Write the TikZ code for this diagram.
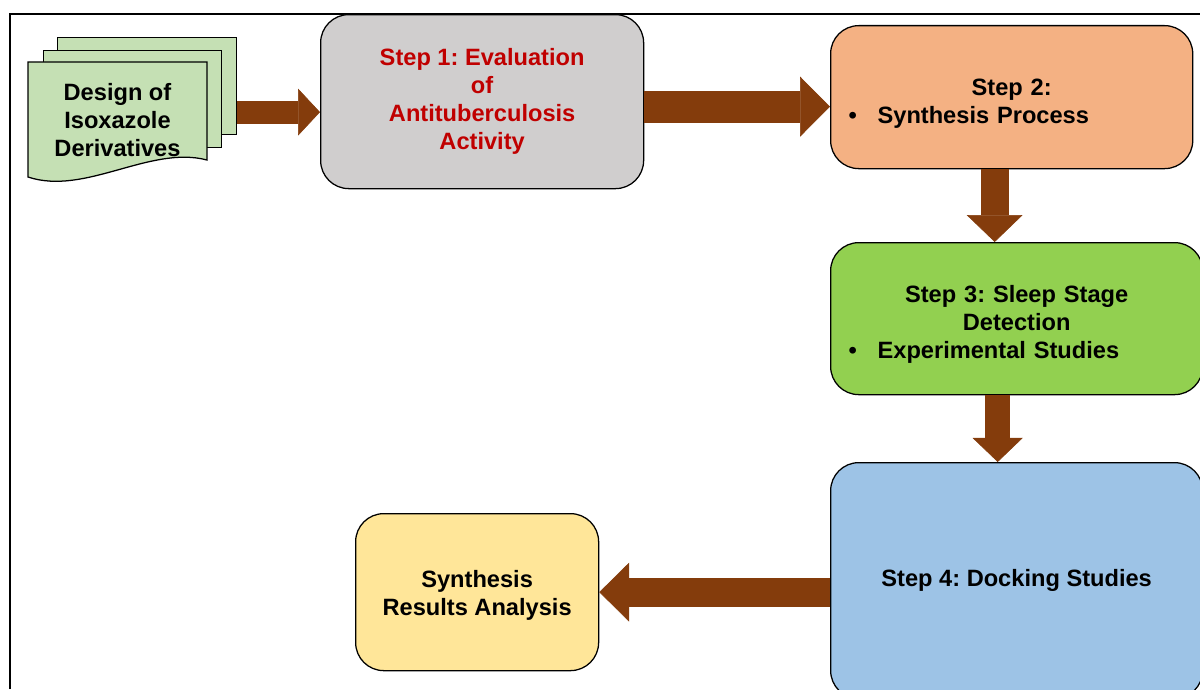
\documentclass[tikz,border=0pt]{standalone}
\usepackage{fontspec}
\setmainfont{Liberation Sans}
\usetikzlibrary{calc}
\usetikzlibrary{arrows.meta}
\usetikzlibrary{positioning}

\definecolor{boxgray}{HTML}{D0CECE}
\definecolor{boxorange}{HTML}{F4B183}
\definecolor{boxgreen}{HTML}{92D050}
\definecolor{boxblue}{HTML}{9DC3E6}
\definecolor{boxyellow}{HTML}{FFE699}
\definecolor{docgreen}{HTML}{C5E0B4}
\definecolor{arrowbrown}{HTML}{843C0C}
\definecolor{stepred}{HTML}{C00000}

\frenchspacing
\newcommand{\pxu}{0.025cm}
\newcommand{\bulletitem}[1]{\makebox[20.6pt][l]{\textbullet}#1}

\begin{document}
\begin{tikzpicture}[x=0.025cm, y=-0.025cm,
    every node/.style={font=\bfseries\fontsize{16.8}{19.9}\selectfont, align=center},
    stepbox/.style={draw, line width=0.9pt, rounded corners=20pt, inner sep=0pt, anchor=north west},
    sheet/.style={draw, line width=0.9pt, fill=docgreen},
    fatarrow/.style n args={3}{draw=arrowbrown, line width=#1,
      -{Triangle[length=#2, width=#3, line width=0.4pt 0 0]}}
  ]
  \useasboundingbox (0,0) rectangle (1200,689);
  \draw[line width=0.8pt] (10,689) -- (10,14) -- (1200,14);

  % stacked document
  \node[sheet, minimum width=179*\pxu, minimum height=97*\pxu, anchor=north west] (back) at (57,37) {};
  \node[sheet, minimum width=178*\pxu, minimum height=97*\pxu, anchor=north west] (mid) at (43,50) {};
  \draw[sheet] (28,62) -- (207,62) -- (207,160) .. controls (150,145) and (85,196) .. (28,177) -- cycle;
  \node (doc) at (117.5,120) {Design of\\Isoxazole\\Derivatives};

  % steps
  \node[stepbox, fill=boxgray, text=stepred, minimum width=323*\pxu, minimum height=174*\pxu] (s1) at (320,14)
    {Step 1: Evaluation\\of\\Antituberculosis\\Activity};
  \node[stepbox, fill=boxorange, minimum height=143*\pxu, text width=231.9pt, inner xsep=12.8pt, align=left] (s2) at (830,25)
    {\makebox[\linewidth]{\rule{0pt}{21pt}Step 2:}\\\bulletitem{Synthesis Process}};
  \node[stepbox, fill=boxgreen, minimum height=152*\pxu, text width=239pt, inner xsep=12.8pt, align=left] (s3) at (830,242)
    {\makebox[\linewidth]{\rule{0pt}{21pt}Step 3: Sleep Stage}\\\makebox[\linewidth]{Detection}\\\bulletitem{Experimental Studies}};
  \node[stepbox, fill=boxblue, minimum width=372*\pxu, minimum height=236*\pxu] (s4) at (830,462)
    {Step 4: Docking Studies};
  \node[stepbox, fill=boxyellow, minimum width=243*\pxu, minimum height=157*\pxu] (syn) at (355,513)
    {\rule{0pt}{17pt}Synthesis\\Results Analysis};

  % block arrows
  \coordinate (a1) at ($(s1.west)+(0,10.5)$);
  \coordinate (a2) at ($(s1.east)+(0,5)$);
  \coordinate (a3) at ($(s2.south)+(-17,0)$);
  \coordinate (a4) at ($(s3.south)+(-19,0)$);
  \draw[fatarrow={16.4pt}{15.6pt}{33.4pt}] (back.east |- a1) -- (a1);
  \draw[fatarrow={22.8pt}{21.3pt}{42.7pt}] (a2) -- (a2 -| s2.west);
  \draw[fatarrow={19.9pt}{19.2pt}{39.8pt}] (a3) -- (a3 |- s3.north);
  \draw[fatarrow={17.8pt}{17.1pt}{35.6pt}] (a4) -- (a4 |- s4.north);
  \draw[fatarrow={20.6pt}{21.3pt}{42pt}] (s4.west |- syn.east) -- (syn.east);
\end{tikzpicture}
\end{document}
